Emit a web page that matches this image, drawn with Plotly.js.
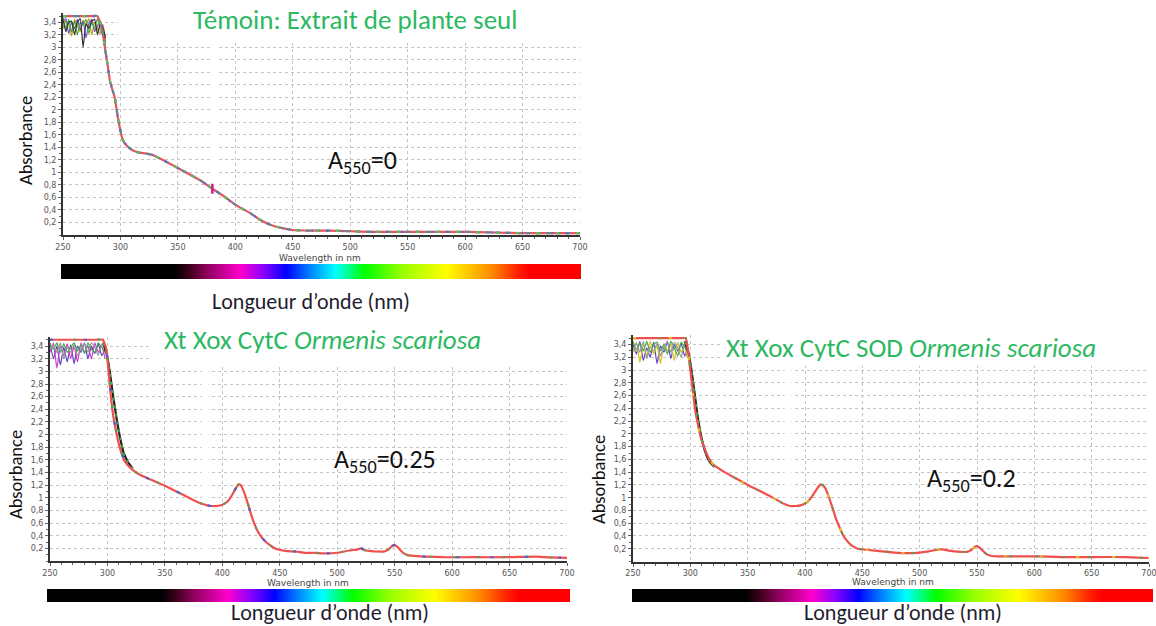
<!DOCTYPE html>
<html>
<head>
<meta charset="utf-8">
<script src="https://cdn.plot.ly/plotly-3.0.1.min.js"></script>
<style>
  html, body { margin: 0; padding: 0; background: #ffffff; }
  #chart { width: 1156px; height: 626px; }
</style>
</head>
<body>
<div id="chart"></div>
<script>
// ---------- Data ----------
// Panel 1 : Témoin (plant extract alone)
const wl1  = [250,255,260,265,270,275,280,284,286,289,291,295,298,302,306,311,316,320,328,337,350,360,369,380,390,398,405,413,420,427,434,441,450,465,480,500,520,550,580,600,625,650,675,700];
const abs1 = [3.5,3.5,3.5,3.5,3.5,3.5,3.5,3.3,3.05,2.7,2.45,2.2,1.85,1.52,1.42,1.35,1.32,1.31,1.28,1.2,1.07,0.97,0.88,0.74,0.62,0.51,0.43,0.35,0.26,0.19,0.14,0.11,0.08,0.07,0.07,0.06,0.05,0.05,0.05,0.05,0.04,0.03,0.03,0.03];

// Panel 2 : Xt Xox CytC Ormenis scariosa
const wl2  = [250,260,270,280,290,296,299,301,303,305,307,309,312,315,320,325,330,340,350,360,370,380,385,390,395,400,405,409,412,414,416,418,421,424,427,430,434,438,443,447,455,464,472,480,490,500,506,512,517,521,524,528,534,541,545,548,550,552,555,558,562,567,577,593,620,650,674,680,700];
const abs2 = [3.5,3.5,3.5,3.5,3.5,3.5,3.35,3.0,2.6,2.3,2.1,1.92,1.72,1.58,1.47,1.4,1.35,1.27,1.19,1.1,1.01,0.92,0.89,0.87,0.87,0.89,0.95,1.06,1.16,1.21,1.2,1.13,0.98,0.8,0.63,0.5,0.38,0.3,0.23,0.19,0.16,0.15,0.13,0.13,0.12,0.13,0.15,0.17,0.18,0.2,0.17,0.16,0.15,0.15,0.19,0.24,0.25,0.23,0.17,0.12,0.09,0.08,0.07,0.06,0.06,0.06,0.07,0.06,0.05];

// Panel 3 : Xt Xox CytC SOD Ormenis scariosa
const wl3  = [250,260,270,280,290,296,298,300,302,304,306,309,313,316,320,328,340,350,359,370,377,382,387,392,396,401,405,409,412,414,416,418,421,424,427,430,433,436,440,446,455,467,478,489,500,508,514,520,525,530,541,545,548,550,552,555,558,562,568,576,600,625,650,680,690,700];
const abs3 = [3.5,3.5,3.5,3.5,3.5,3.5,3.3,3.0,2.7,2.4,2.2,1.95,1.75,1.62,1.52,1.42,1.3,1.2,1.12,1.02,0.95,0.9,0.87,0.87,0.88,0.92,0.99,1.1,1.18,1.21,1.19,1.14,1.0,0.84,0.67,0.54,0.42,0.34,0.26,0.2,0.18,0.16,0.14,0.13,0.14,0.16,0.18,0.19,0.17,0.16,0.15,0.18,0.23,0.24,0.22,0.17,0.12,0.09,0.08,0.08,0.08,0.07,0.07,0.07,0.06,0.055];

// Saturated (noisy) region, several overlapping spectra
const nWl1 = [250,252.5,255,257.5,260,262.5,265,267.5,270,272.5,275,277.5,280,282.5,285,287];
const nA1  = [3.48,3.3,3.45,3.25,3.42,3.2,3.4,3.35,3.45,3.22,3.4,3.3,3.46,3.28,3.2,3.0];
const nB1  = [3.4,3.46,3.22,3.4,3.3,3.45,3.28,3.42,3.15,3.38,3.45,3.25,3.35,3.42,3.3,3.05];
const nC1  = [3.3,3.42,3.38,3.18,3.45,3.35,3.25,3.44,3.35,3.46,3.2,3.4,3.3,3.22,3.36,3.1];
const nD1  = [3.45,3.25,3.4,3.42,3.2,3.4,3.46,3.0,3.38,3.3,3.42,3.45,3.2,3.4,3.3,3.15];

const nWl2 = [250,253,256,259,262,265,268,271,274,277,280,283,286,289,292,295,298];
const nA2  = [3.45,3.2,3.4,3.1,3.38,3.15,3.42,3.12,3.4,3.3,3.45,3.2,3.4,3.28,3.44,3.25,3.35];
const nB2  = [3.3,3.45,3.05,3.4,3.25,3.44,3.2,3.4,3.15,3.45,3.3,3.4,3.2,3.45,3.3,3.4,3.2];
const nC2  = [3.42,3.35,3.45,3.3,3.44,3.3,3.38,3.45,3.32,3.42,3.28,3.45,3.35,3.3,3.45,3.38,3.3];
const nD2  = [3.35,3.4,3.3,3.45,3.2,3.38,3.3,3.42,3.25,3.35,3.44,3.3,3.45,3.38,3.25,3.42,3.4];

const nWl3 = [250,253,256,259,262,265,268,271,274,277,280,283,286,289,292,295,297];
const nA3  = [3.4,3.25,3.45,3.15,3.35,3.2,3.44,3.1,3.38,3.28,3.45,3.18,3.4,3.3,3.42,3.22,3.3];
const nB3  = [3.28,3.44,3.12,3.4,3.22,3.45,3.25,3.38,3.1,3.42,3.3,3.4,3.15,3.44,3.28,3.38,3.2];
const nC3  = [3.45,3.32,3.42,3.3,3.45,3.28,3.4,3.44,3.3,3.4,3.25,3.45,3.35,3.22,3.44,3.36,3.3];
const nD3  = [3.32,3.42,3.28,3.45,3.18,3.36,3.3,3.42,3.22,3.36,3.44,3.28,3.44,3.35,3.2,3.4,3.35];

// Spread of the falling edge (later spectra)
const dropWl2 = [296,299,302,305,308,311,314,318,322];
const dropA2  = [3.45,3.3,3.0,2.6,2.25,1.95,1.72,1.56,1.46];
const dropWl3 = [295,298,301,304,307,310,313,317,321];
const dropA3  = [3.45,3.3,3.0,2.6,2.2,1.92,1.72,1.56,1.48];

// Small artefact at 380 nm (panel 1)
const glitchWl = [380,380];
const glitchA  = [0.66,0.82];

// Ticks
const xTicks = [250,300,350,400,450,500,550,600,650,700];
const yTicks = [0.2,0.4,0.6,0.8,1,1.2,1.4,1.6,1.8,2,2.2,2.4,2.6,2.8,3,3.2,3.4];
const yTickText = ['0,2','0,4','0,6','0,8','1','1,2','1,4','1,6','1,8','2','2,2','2,4','2,6','2,8','3','3,2','3,4'];

// Visible-spectrum colour bar stops
const cbNm     = [250,348,360,375,405,425,445,465,487,512,545,583,622,645,655,700];
const cbColors = ['#000000','#000000','#3a0018','#8a0058','#ff00cc','#8a00ff','#0000ff','#0080ff','#00ffff','#00ff00','#99ff00','#ffff00','#ff8a00','#ff2200','#ff0000','#ff0000'];

// Texts
const titles = ['Témoin: Extrait de plante seul', 'Xt Xox CytC <i>Ormenis scariosa</i>', 'Xt Xox CytC SOD <i>Ormenis scariosa</i>'];
const a550   = ['A<sub>550</sub>=0', 'A<sub>550</sub>=0.25', 'A<sub>550</sub>=0.2'];

// ---------- Figure ----------
const W = 1156, H = 626;
const X = px => px / W;
const Y = py => 1 - py / H;
const GREEN = '#2db862';
const TF = 'Carlito, Lato, "Open Sans", sans-serif';
const SF = '"DejaVu Sans", sans-serif';

function line(x, y, xa, ya, color, width, dash) {
  return {x: x, y: y, xaxis: xa, yaxis: ya, type: 'scatter', mode: 'lines',
          line: {color: color, width: width, dash: dash || 'solid', shape: 'spline', smoothing: 0.4},
          hoverinfo: 'skip', showlegend: false};
}

const data = [];
// panel 1
[['#c9a100',nC1],['#7b4fc9',nB1],['#3fae4a',nA1],['#333333',nD1]].forEach(([c, v]) => data.push(line(nWl1, v, 'x', 'y', c, 1.2)));
data.push(line(wl1, abs1, 'x', 'y', '#e8555a', 2.2));
data.push(line(wl1, abs1, 'x', 'y', '#4f8f9a', 2.2, '4px,6px'));
data.push(line(wl1, abs1, 'x', 'y', '#5a6fd0', 2.2, '2px,13px'));
data.push(line(wl1, abs1, 'x', 'y', '#6cbf4f', 2.2, '3px,17px'));
data.push(line(glitchWl, glitchA, 'x', 'y', '#d01c8b', 2.5));
// panel 2
[['#5a3fd0',nA2],['#d33cc0',nB2],['#3fae4a',nC2],['#999999',nD2]].forEach(([c, v]) => data.push(line(nWl2, v, 'x2', 'y2', c, 1.2)));
data.push(line(dropWl2, dropA2, 'x2', 'y2', '#222222', 2.2));
data.push(line(dropWl2, dropA2, 'x2', 'y2', '#3fae4a', 1.5, '3px,5px'));
data.push(line(wl2, abs2, 'x2', 'y2', '#ef4f4f', 2.2));
data.push(line(wl2, abs2, 'x2', 'y2', '#3fae4a', 2.2, '2px,22px'));
data.push(line(wl2, abs2, 'x2', 'y2', '#4a5fd8', 2.2, '3px,31px'));
// panel 3
[['#5a3fd0',nA3],['#d6c21f',nB3],['#3fae4a',nC3],['#999999',nD3]].forEach(([c, v]) => data.push(line(nWl3, v, 'x3', 'y3', c, 1.2)));
data.push(line(dropWl3, dropA3, 'x3', 'y3', '#222222', 2.2));
data.push(line(dropWl3, dropA3, 'x3', 'y3', '#3fae4a', 1.5, '3px,5px'));
data.push(line(wl3, abs3, 'x3', 'y3', '#ef4f4f', 2.2));
data.push(line(wl3, abs3, 'x3', 'y3', '#3fae4a', 2.2, '2px,24px'));
data.push(line(wl3, abs3, 'x3', 'y3', '#e0c020', 2.2, '3px,33px'));

// colour bars
const cs = cbNm.map((nm, i) => [(nm - 250) / 450, cbColors[i]]);
['4','5','6'].forEach(k => {
  data.push({type: 'heatmap', x: cbNm, y: [0, 1], z: [cbNm, cbNm], zmin: 250, zmax: 700,
             colorscale: cs, zsmooth: 'best', showscale: false, hoverinfo: 'skip',
             xaxis: 'x' + k, yaxis: 'y' + k});
});

function xax(dom) {
  return {domain: dom, range: [250, 700], tickmode: 'array', tickvals: xTicks,
          showgrid: true, gridcolor: '#c4c4c4', griddash: 'dot', gridwidth: 1,
          zeroline: false, showline: true, linecolor: '#333333', linewidth: 2,
          ticks: 'outside', ticklen: 3, tickcolor: '#666', tickwidth: 1,
          minor: {ticks: 'outside', ticklen: 2, dtick: 10, tickcolor: '#666', showgrid: false},
          tickfont: {family: SF, size: 8, color: '#555'}, ticklabeloverflow: 'allow', fixedrange: true};
}
function yax(dom, anchor) {
  return {domain: dom, range: [0, 3.55], tickmode: 'array', tickvals: yTicks, ticktext: yTickText,
          showgrid: true, gridcolor: '#c4c4c4', griddash: 'dot', gridwidth: 1,
          zeroline: false, showline: true, linecolor: '#333333', linewidth: 2,
          ticks: 'outside', ticklen: 3, tickcolor: '#666', tickwidth: 1,
          minor: {ticks: 'outside', ticklen: 2, dtick: 0.1, tickcolor: '#666', showgrid: false},
          tickfont: {family: SF, size: 8, color: '#555'}, anchor: anchor, fixedrange: true};
}
function cbx(dom) { return {domain: dom, range: [250, 700], visible: false, fixedrange: true}; }
function cby(dom, anchor) { return {domain: dom, range: [-0.5, 1.5], visible: false, anchor: anchor, fixedrange: true}; }

function ann(text, xpx, ypx, size, color, extra) {
  return Object.assign({text: text, x: X(xpx), y: Y(ypx), xref: 'paper', yref: 'paper', showarrow: false,
          xanchor: 'center', yanchor: 'middle', font: {family: TF, size: size, color: color}}, extra || {});
}

const annotations = [
  ann(titles[0], 355, 20, 27, GREEN),
  ann(titles[1], 322, 339, 27, GREEN),
  ann(titles[2], 911, 347, 27, GREEN),
  ann(a550[0], 362, 162, 26, '#111'),
  ann(a550[1], 385, 460, 26, '#111'),
  ann(a550[2], 971, 479, 26, '#111'),
  ann('Absorbance', 25, 140, 18.5, '#111', {textangle: -90}),
  ann('Absorbance', 15, 475, 18.5, '#111', {textangle: -90}),
  ann('Absorbance', 598, 480, 18.5, '#111', {textangle: -90}),
  ann('Wavelength in nm', 320, 258, 9, '#444', {font: {family: SF, size: 9, color: '#444'}}),
  ann('Wavelength in nm', 308, 583, 9, '#444', {font: {family: SF, size: 9, color: '#444'}}),
  ann('Wavelength in nm', 893, 582, 9, '#444', {font: {family: SF, size: 9, color: '#444'}}),
  ann('Longueur d’onde (nm)', 311, 301, 22, '#1e1e30'),
  ann('Longueur d’onde (nm)', 330, 612, 22, '#1e1e30'),
  ann('Longueur d’onde (nm)', 903, 612, 22, '#1e1e30')
];

function white(xr, yr, x0, x1, y0, y1) {
  return {type: 'rect', xref: xr, yref: yr, x0: x0, x1: x1, y0: y0, y1: y1,
          fillcolor: '#ffffff', line: {width: 0}, layer: 'between'};
}
const shapes = [
  white('x', 'y', 298, 700, 3.07, 3.55),
  white('x2', 'y2', 336, 700, 3.07, 3.55),
  white('x3', 'y3', 327, 700, 3.07, 3.55),
  white('x', 'y', 378, 385, 0, 3.07),
  white('x2', 'y2', 382, 388, 0, 3.07),
  white('x3', 'y3', 382, 388, 0, 3.07)
];

const layout = {
  width: W, height: H,
  margin: {l: 0, r: 0, t: 0, b: 0},
  paper_bgcolor: '#ffffff', plot_bgcolor: '#ffffff',
  separators: ', ',
  showlegend: false,
  xaxis:  xax([X(63), X(580)]),
  yaxis:  yax([Y(235), Y(13)], 'x'),
  xaxis2: xax([X(50), X(567)]),
  yaxis2: yax([Y(561), Y(336.6)], 'x2'),
  xaxis3: xax([X(633), X(1149)]),
  yaxis3: yax([Y(561.5), Y(335)], 'x3'),
  xaxis4: cbx([X(61), X(581)]),
  yaxis4: cby([Y(279), Y(264)], 'x4'),
  xaxis5: cbx([X(47), X(570)]),
  yaxis5: cby([Y(602), Y(589)], 'x5'),
  xaxis6: cbx([X(632), X(1153)]),
  yaxis6: cby([Y(602), Y(589)], 'x6'),
  annotations: annotations,
  shapes: shapes
};
layout.xaxis.anchor = 'y';
layout.xaxis2.anchor = 'y2';
layout.xaxis3.anchor = 'y3';
layout.xaxis4.anchor = 'y4';
layout.xaxis5.anchor = 'y5';
layout.xaxis6.anchor = 'y6';

Plotly.newPlot('chart', data, layout, {displayModeBar: false, staticPlot: true});
</script>
</body>
</html>
